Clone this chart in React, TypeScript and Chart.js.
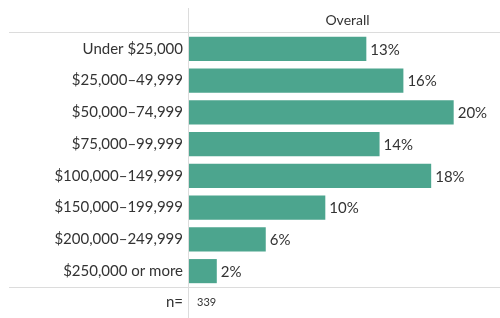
import React, { useEffect, useRef } from "react";
import { Chart, registerables } from "chart.js";

Chart.register(...registerables);

const categories = [
  "Under $25,000",
  "$25,000–49,999",
  "$50,000–74,999",
  "$75,000–99,999",
  "$100,000–149,999",
  "$150,000–199,999",
  "$200,000–249,999",
  "$250,000 or more",
];
const values = [13.4, 16.2, 20.0, 14.4, 18.3, 10.3, 5.8, 2.1];
const valueLabels = ["13%", "16%", "20%", "14%", "18%", "10%", "6%", "2%"];
const columnHeader = "Overall";
const nLabel = "n=";
const nValue = "339";

const FONT = "Lato, 'Open Sans', sans-serif";
const TEXT = "#333333";
const RULE = "#dcdcdc";

const tablePlugin = {
  id: "tablePlugin",
  afterDraw(chart: any) {
    const { ctx, chartArea } = chart;
    const W = chart.width;
    const H = chart.height;
    ctx.save();
    // rules
    ctx.strokeStyle = RULE;
    ctx.lineWidth = 1;
    ctx.beginPath();
    ctx.moveTo(chartArea.left - 0.5, 8);
    ctx.lineTo(chartArea.left - 0.5, H);
    ctx.moveTo(9, chartArea.top - 0.5);
    ctx.lineTo(W, chartArea.top - 0.5);
    ctx.moveTo(9, chartArea.bottom + 0.5);
    ctx.lineTo(W, chartArea.bottom + 0.5);
    ctx.stroke();
    // header
    ctx.fillStyle = TEXT;
    ctx.font = `14px ${FONT}`;
    ctx.textAlign = "center";
    ctx.textBaseline = "middle";
    ctx.fillText(columnHeader, (chartArea.left + W) / 2 + 3, 20);
    // n row
    ctx.font = `15px ${FONT}`;
    ctx.textAlign = "right";
    ctx.fillText(nLabel, chartArea.left - 6, 302);
    ctx.font = `11px ${FONT}`;
    ctx.textAlign = "left";
    ctx.fillText(nValue, chartArea.left + 8, 302);
    // value labels
    const meta = chart.getDatasetMeta(0);
    ctx.font = `15px ${FONT}`;
    ctx.textAlign = "left";
    meta.data.forEach((bar: any, i: number) => {
      ctx.fillText(valueLabels[i], bar.x + 4, bar.y + 1);
    });
    ctx.restore();
  },
};

export default function App() {
  const ref = useRef<HTMLCanvasElement>(null);
  useEffect(() => {
    const chart = new Chart(ref.current!, {
      type: "bar",
      data: {
        labels: categories,
        datasets: [
          {
            data: values,
            backgroundColor: "#4ca58e",
            barPercentage: 0.76,
            categoryPercentage: 1,
          },
        ],
      },
      options: {
        indexAxis: "y",
        animation: false,
        responsive: false,
        maintainAspectRatio: false,
        layout: { padding: { top: 33, bottom: 31, left: 0, right: 0 } },
        plugins: { legend: { display: false }, tooltip: { enabled: false } },
        scales: {
          x: { display: false, min: 0, max: 23.5 },
          y: {
            grid: { display: false, drawTicks: false },
            border: { display: false },
            ticks: {
              color: TEXT,
              font: { family: FONT, size: 15 },
              padding: 6,
            },
            afterFit(scale: any) {
              scale.width = 189;
            },
          },
        },
      },
      plugins: [tablePlugin],
    });
    return () => chart.destroy();
  }, []);
  return (
    <div style={{ position: "fixed", left: 0, top: 0, width: 500, height: 318, background: "#fff" }}>
      <canvas ref={ref} width={500} height={318} />
    </div>
  );
}
